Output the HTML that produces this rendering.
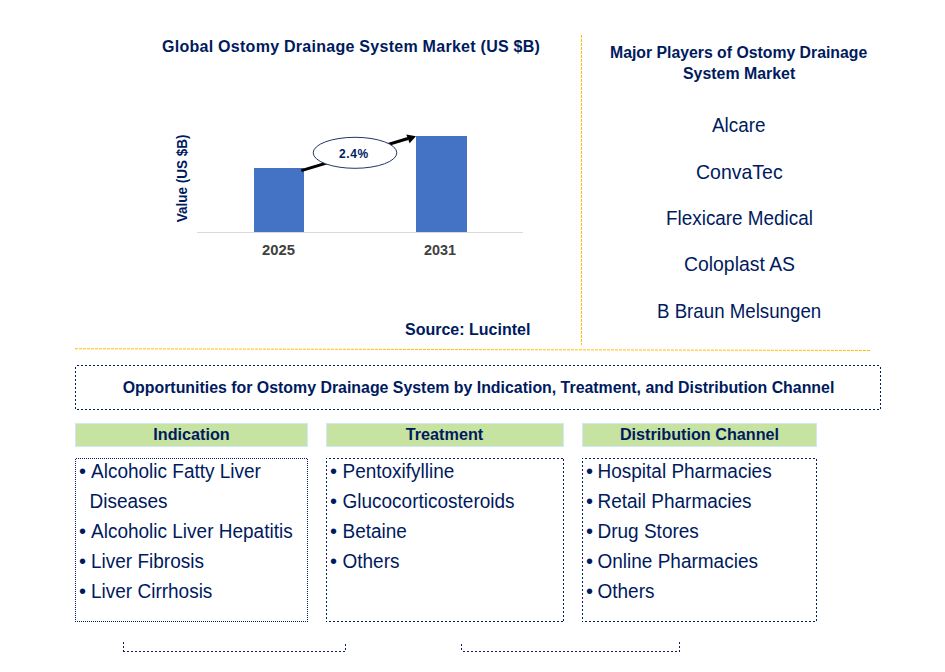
<!DOCTYPE html>
<html>
<head>
<meta charset="utf-8">
<title>Ostomy Drainage System Market</title>
<style>
html,body{margin:0;padding:0;background:#fff;}
body{width:945px;height:672px;overflow:hidden;position:relative;}
svg{position:absolute;left:0;top:0;display:block;}
text{font-family:"Liberation Sans",Arial,sans-serif;}
</style>
</head>
<body>
<svg width="945" height="672" viewBox="0 0 945 672">
  <text x="162" y="52" font-size="16" font-weight="bold" fill="#001a5e" letter-spacing="0.27">Global Ostomy Drainage System Market (US $B)</text>
  <text font-size="13.5" font-weight="bold" fill="#001a5e" text-anchor="middle" transform="translate(187.4 178.4) rotate(-90) scale(1 1.08)">Value (US $B)</text>
  <rect x="254" y="168" width="50" height="64" fill="#4472c4"/>
  <rect x="416" y="136" width="51" height="96" fill="#4472c4"/>
  <line x1="197" y1="232.5" x2="523" y2="232.5" stroke="#d9d9d9" stroke-width="1"/>
  <text x="262" y="255" transform="matrix(1 0 0 1.04 0 -10.200)" font-size="14.8" font-weight="bold" fill="#404040">2025</text>
  <text x="424" y="255" transform="matrix(1 0 0 1.04 0 -10.200)" font-size="14.4" font-weight="bold" fill="#404040">2031</text>
  <line x1="301.3" y1="170.6" x2="408" y2="138.5" stroke="#000" stroke-width="3"/>
  <polygon points="416,136.2 406.3,134.4 409.6,143.2" fill="#000"/>
  <ellipse cx="355" cy="152.8" rx="41.8" ry="15.5" fill="#fff" stroke="#1f3864" stroke-width="1"/>
  <text x="339" y="158" transform="matrix(1 0 0 1.12 0 -18.960)" font-size="12" font-weight="bold" fill="#001a5e" letter-spacing="0.6">2.4%</text>
  <text x="405" y="335" font-size="16.0" font-weight="bold" fill="#001a5e">Source: Lucintel</text>
  <line x1="581.5" y1="35" x2="581.5" y2="345" stroke="#ffc000" stroke-width="1" stroke-dasharray="3 1" shape-rendering="crispEdges"/>
  <line x1="75" y1="348.7" x2="871" y2="350.5" stroke="#ffc000" stroke-width="1" stroke-dasharray="3 1"/>
  <text x="610" y="58" font-size="15.8" font-weight="bold" fill="#001a5e">Major Players of Ostomy Drainage</text>
  <text x="683" y="79" font-size="15.9" font-weight="bold" fill="#001a5e">System Market</text>
  <text x="712" y="132" transform="matrix(1 0 0 1.075 0 -9.900)" font-size="18.9" fill="#001a5e">Alcare</text>
  <text x="696" y="179" transform="matrix(1 0 0 1.075 0 -13.425)" font-size="19.5" fill="#001a5e">ConvaTec</text>
  <text x="666" y="225" transform="matrix(1 0 0 1.075 0 -16.875)" font-size="18.9" fill="#001a5e">Flexicare Medical</text>
  <text x="684" y="271" transform="matrix(1 0 0 1.075 0 -20.325)" font-size="19.4" fill="#001a5e">Coloplast AS</text>
  <text x="657" y="318" transform="matrix(1 0 0 1.075 0 -23.850)" font-size="18.7" fill="#001a5e">B Braun Melsungen</text>
  <path d="M75 365.5H881" stroke="#001a5e" stroke-width="1" stroke-dasharray="2 2" stroke-dashoffset="2" shape-rendering="crispEdges" fill="none"/>
  <path d="M75 409.5H881" stroke="#001a5e" stroke-width="1" stroke-dasharray="2 2" stroke-dashoffset="2" shape-rendering="crispEdges" fill="none"/>
  <path d="M75.5 365V410" stroke="#001a5e" stroke-width="1" stroke-dasharray="2 2" stroke-dashoffset="2" shape-rendering="crispEdges" fill="none"/>
  <path d="M880.5 365V410" stroke="#001a5e" stroke-width="1" stroke-dasharray="2 2" stroke-dashoffset="2" shape-rendering="crispEdges" fill="none"/>
  <text x="478.5" y="393" font-size="15.9" font-weight="bold" text-anchor="middle" fill="#001a5e">Opportunities for Ostomy Drainage System by Indication, Treatment, and Distribution Channel</text>
  <rect x="75.5" y="423.5" width="232" height="23" fill="#c6e3a1" stroke="#d2e6fa" stroke-width="1"/>
  <text x="191.5" y="440" font-size="16.2" font-weight="bold" text-anchor="middle" fill="#001a5e">Indication</text>
  <rect x="326.5" y="423.5" width="237" height="23" fill="#c6e3a1" stroke="#d2e6fa" stroke-width="1"/>
  <text x="444.5" y="440" font-size="16.2" font-weight="bold" text-anchor="middle" fill="#001a5e">Treatment</text>
  <rect x="582.5" y="423.5" width="234" height="23" fill="#c6e3a1" stroke="#d2e6fa" stroke-width="1"/>
  <text x="699.5" y="440" font-size="16.2" font-weight="bold" text-anchor="middle" fill="#001a5e">Distribution Channel</text>
  <path d="M75 458.5H308" stroke="#001a5e" stroke-width="1" stroke-dasharray="1 1" stroke-dashoffset="1" shape-rendering="crispEdges" fill="none"/>
  <path d="M75 621.5H308" stroke="#001a5e" stroke-width="1" stroke-dasharray="1 1" stroke-dashoffset="0" shape-rendering="crispEdges" fill="none"/>
  <path d="M75.5 458V622" stroke="#001a5e" stroke-width="1" stroke-dasharray="1 1" stroke-dashoffset="1" shape-rendering="crispEdges" fill="none"/>
  <path d="M307.5 458V622" stroke="#001a5e" stroke-width="1" stroke-dasharray="1 1" stroke-dashoffset="1" shape-rendering="crispEdges" fill="none"/>
  <path d="M326 458.5H564" stroke="#001a5e" stroke-width="1" stroke-dasharray="2 2" stroke-dashoffset="1" shape-rendering="crispEdges" fill="none"/>
  <path d="M326 621.5H564" stroke="#001a5e" stroke-width="1" stroke-dasharray="2 2" stroke-dashoffset="1" shape-rendering="crispEdges" fill="none"/>
  <path d="M326.5 458V622" stroke="#001a5e" stroke-width="1" stroke-dasharray="2 2" stroke-dashoffset="1" shape-rendering="crispEdges" fill="none"/>
  <path d="M563.5 458V622" stroke="#001a5e" stroke-width="1" stroke-dasharray="2 2" stroke-dashoffset="3" shape-rendering="crispEdges" fill="none"/>
  <path d="M582 458.5H817" stroke="#001a5e" stroke-width="1" stroke-dasharray="2 2" stroke-dashoffset="1" shape-rendering="crispEdges" fill="none"/>
  <path d="M582 621.5H817" stroke="#001a5e" stroke-width="1" stroke-dasharray="2 2" stroke-dashoffset="1" shape-rendering="crispEdges" fill="none"/>
  <path d="M582.5 458V622" stroke="#001a5e" stroke-width="1" stroke-dasharray="2 2" stroke-dashoffset="1" shape-rendering="crispEdges" fill="none"/>
  <path d="M816.5 458V622" stroke="#001a5e" stroke-width="1" stroke-dasharray="2 2" stroke-dashoffset="3" shape-rendering="crispEdges" fill="none"/>
  <text x="79.0" y="478.12" font-size="20" fill="#001a5e">•</text>
  <text x="91" y="478" transform="matrix(1 0 0 1.075 0 -35.850)" font-size="19" fill="#001a5e">Alcoholic Fatty Liver</text>
  <text x="89.5" y="508" transform="matrix(1 0 0 1.075 0 -38.100)" font-size="19" fill="#001a5e">Diseases</text>
  <text x="79.0" y="538.12" font-size="20" fill="#001a5e">•</text>
  <text x="91" y="538" transform="matrix(1 0 0 1.075 0 -40.350)" font-size="19" fill="#001a5e">Alcoholic Liver Hepatitis</text>
  <text x="79.0" y="568.12" font-size="20" fill="#001a5e">•</text>
  <text x="91" y="568" transform="matrix(1 0 0 1.075 0 -42.600)" font-size="19" fill="#001a5e">Liver Fibrosis</text>
  <text x="79.0" y="598.12" font-size="20" fill="#001a5e">•</text>
  <text x="91" y="598" transform="matrix(1 0 0 1.075 0 -44.850)" font-size="19" fill="#001a5e">Liver Cirrhosis</text>
  <text x="330.0" y="478.12" font-size="20" fill="#001a5e">•</text>
  <text x="342.5" y="478" transform="matrix(1 0 0 1.075 0 -35.850)" font-size="19" fill="#001a5e">Pentoxifylline</text>
  <text x="330.0" y="508.12" font-size="20" fill="#001a5e">•</text>
  <text x="342.5" y="508" transform="matrix(1 0 0 1.075 0 -38.100)" font-size="19" fill="#001a5e">Glucocorticosteroids</text>
  <text x="330.0" y="538.12" font-size="20" fill="#001a5e">•</text>
  <text x="342.5" y="538" transform="matrix(1 0 0 1.075 0 -40.350)" font-size="19" fill="#001a5e">Betaine</text>
  <text x="330.0" y="568.12" font-size="20" fill="#001a5e">•</text>
  <text x="342.5" y="568" transform="matrix(1 0 0 1.075 0 -42.600)" font-size="19" fill="#001a5e">Others</text>
  <text x="586.0" y="478.12" font-size="20" fill="#001a5e">•</text>
  <text x="597.5" y="478" transform="matrix(1 0 0 1.075 0 -35.850)" font-size="19" fill="#001a5e">Hospital Pharmacies</text>
  <text x="586.0" y="508.12" font-size="20" fill="#001a5e">•</text>
  <text x="597.5" y="508" transform="matrix(1 0 0 1.075 0 -38.100)" font-size="19" fill="#001a5e">Retail Pharmacies</text>
  <text x="586.0" y="538.12" font-size="20" fill="#001a5e">•</text>
  <text x="597.5" y="538" transform="matrix(1 0 0 1.075 0 -40.350)" font-size="19" fill="#001a5e">Drug Stores</text>
  <text x="586.0" y="568.12" font-size="20" fill="#001a5e">•</text>
  <text x="597.5" y="568" transform="matrix(1 0 0 1.075 0 -42.600)" font-size="19" fill="#001a5e">Online Pharmacies</text>
  <text x="586.0" y="598.12" font-size="20" fill="#001a5e">•</text>
  <text x="597.5" y="598" transform="matrix(1 0 0 1.075 0 -44.850)" font-size="19" fill="#001a5e">Others</text>
  <path d="M123.5 642V652" stroke="#0f1f60" stroke-width="1" stroke-dasharray="2 2" stroke-dashoffset="0" shape-rendering="crispEdges" fill="none"/>
  <path d="M123 651.5H346" stroke="#0f1f60" stroke-width="1" stroke-dasharray="2 2" stroke-dashoffset="0" shape-rendering="crispEdges" fill="none"/>
  <path d="M345.5 644V650" stroke="#0f1f60" stroke-width="1" stroke-dasharray="2 2" stroke-dashoffset="0" shape-rendering="crispEdges" fill="none"/>
  <path d="M461.5 644V650" stroke="#0f1f60" stroke-width="1" stroke-dasharray="2 2" stroke-dashoffset="0" shape-rendering="crispEdges" fill="none"/>
  <path d="M461 651.5H680" stroke="#0f1f60" stroke-width="1" stroke-dasharray="2 2" stroke-dashoffset="2" shape-rendering="crispEdges" fill="none"/>
  <path d="M679.5 642V652" stroke="#0f1f60" stroke-width="1" stroke-dasharray="2 2" stroke-dashoffset="0" shape-rendering="crispEdges" fill="none"/>
</svg>
</body>
</html>
